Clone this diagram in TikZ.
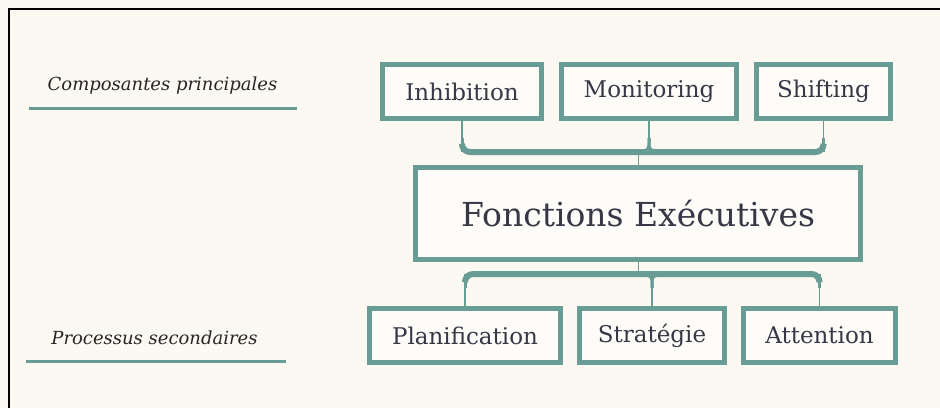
\documentclass[tikz,border=0pt]{standalone}
\usepackage{fontspec}
\setmainfont{DejaVu Serif}
\definecolor{sarcelle}{RGB}{104,156,148}
\definecolor{creme}{RGB}{252,249,243}
\definecolor{encre}{RGB}{55,55,70}

\begin{document}
\begin{tikzpicture}[x=1pt,y=-1pt,
	boite/.style={draw=sarcelle,line width=5.5pt,fill=creme!50!white,text=encre,
		inner sep=0pt,minimum height=54pt,font=\fontsize{23}{26}\selectfont},
	barre/.style={draw=sarcelle,line width=6pt,rounded corners=8pt},
	raccord/.style={draw=sarcelle,line width=3pt,rounded corners=6pt},
	tige/.style={draw=sarcelle,line width=1.6pt},
	titre/.style={font=\fontsize{18}{22}\selectfont\itshape,text=black!85},
	souligne/.style={draw=sarcelle,line width=3pt}]

\fill[creme] (0,0) rectangle (940,408);
\useasboundingbox (0,0) rectangle (940,408);
\draw[line width=2pt] (940,9) -- (9,9) -- (9,408);

% composantes principales
\node[boite,minimum width=159pt] (inh) at (462,91.5) {Inhibition};
\node[boite,minimum width=175pt] (mon) at (649,91.5) {Monitoring};
\node[boite,minimum width=134pt] (shi) at (823.5,91.5) {Shifting};

% fonctions executives
\node[boite,minimum width=445pt,minimum height=92pt,
	font=\fontsize{33}{38}\selectfont] (fe) at (638,213.5) {Fonctions Exécutives};

% processus secondaires
\node[boite,minimum width=191pt] (pla) at (465,335.5) {Planification};
\node[boite,minimum width=145pt] (str) at (652,335.5) {Stratégie};
\node[boite,minimum width=152pt] (att) at (819.5,335.5) {Attention};

% accolade du haut
\coordinate (hb) at (638,152);
\coordinate (hbh) at (638,145);
\coordinate (hbt) at (638,138);
\coordinate (hbr) at (638,151);
\draw[tige] (inh.south) -- (inh.south |- hb);
\draw[tige] (mon.south) -- (mon.south |- hb);
\draw[tige] (shi.south) -- (shi.south |- hb);
\draw[barre] (inh.south |- hbh) |- (hb) -| (shi.south |- hbh);
\draw[raccord] (inh.south |- hb) -- (inh.south |- hbt);
\draw[raccord] (shi.south |- hb) -- (shi.south |- hbt);
\draw[raccord] ([xshift=-9pt]mon.south |- hbr) -| (mon.south |- hbt);
\draw[raccord] ([xshift=9pt]mon.south |- hbr) -| (mon.south |- hbt);
\draw[tige,line width=1pt] (hb) -- (fe.north);

% accolade du bas
\coordinate (bb) at (638,274);
\coordinate (bbh) at (638,281);
\coordinate (bbt) at (638,288);
\coordinate (bbr) at (638,275);
\draw[tige] (pla.north) -- (pla.north |- bb);
\draw[tige] (str.north) -- (str.north |- bb);
\draw[tige] (att.north) -- (att.north |- bb);
\draw[barre] (pla.north |- bbh) |- (bb) -| (att.north |- bbh);
\draw[raccord] (pla.north |- bb) -- (pla.north |- bbt);
\draw[raccord] (att.north |- bb) -- (att.north |- bbt);
\draw[raccord] ([xshift=-9pt]str.north |- bbr) -| (str.north |- bbt);
\draw[raccord] ([xshift=9pt]str.north |- bbr) -| (str.north |- bbt);
\draw[tige,line width=1pt] (fe.south) -- (bb);

% titres
\node[titre] (comp) at (162.5,86) {Composantes principales};
\coordinate (comp-g) at (29,108);
\coordinate (comp-d) at (297,108);
\draw[souligne] (comp-g) -- (comp-d);
\node[titre] (proc) at (154.5,338) {Processus secondaires};
\coordinate (proc-g) at (26,361);
\coordinate (proc-d) at (286,361);
\draw[souligne] (proc-g) -- (proc-d);

\end{tikzpicture}
\end{document}
